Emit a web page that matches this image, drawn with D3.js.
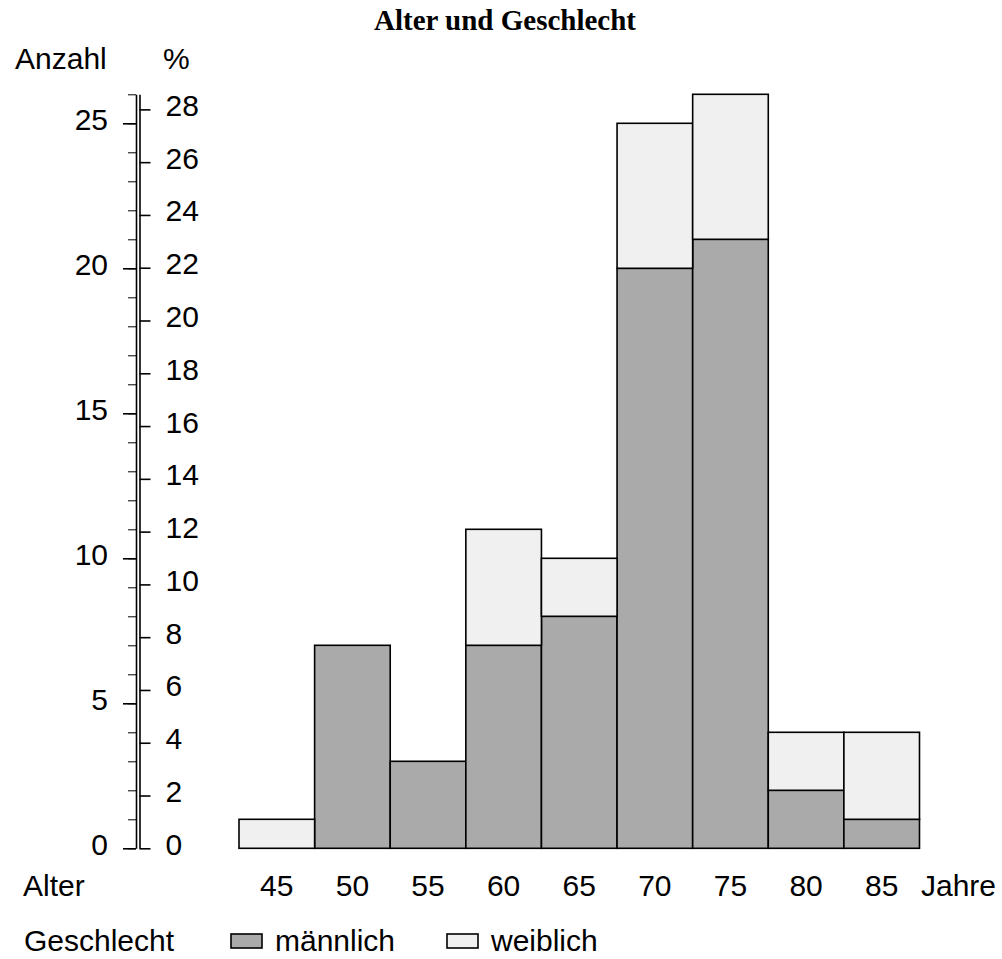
<!DOCTYPE html>
<html>
<head>
<meta charset="utf-8">
<script src="https://cdn.jsdelivr.net/npm/d3@7"></script>
<style>
  body { margin: 0; background: #fff; }
  svg text { font-family: "Liberation Sans", Arial, sans-serif; font-size: 30px; fill: #000; }
  .title { font-family: "Liberation Serif", "Times New Roman", serif; font-weight: bold; font-size: 29px; }
</style>
</head>
<body>
<div id="chart"></div>
<script>
// data
const ages = [45, 50, 55, 60, 65, 70, 75, 80, 85];
const maennlich = [0, 7, 3, 7, 8, 20, 21, 2, 1];
const weiblich = [1, 0, 0, 4, 2, 5, 5, 2, 3];
const seriesNames = ["männlich", "weiblich"];
const seriesColors = ["#aaaaaa", "#f0f0f0"];

document.addEventListener("DOMContentLoaded", function () {
  const width = 1002;
  const height = 959;
  const total = d3.sum(maennlich) + d3.sum(weiblich);

  const svg = d3
    .select("#chart")
    .append("svg")
    .attr("width", width)
    .attr("height", height);

  const rows = ages.map((a, i) => ({ age: a, "männlich": maennlich[i], "weiblich": weiblich[i] }));
  const stacked = d3.stack().keys(seriesNames)(rows);

  // scales
  const x = d3.scaleLinear().domain([42.5, 87.5]).range([239, 919.5]);
  const y = d3.scaleLinear().domain([0, 26]).range([848.3, 94.3]);
  const yPct = d3.scaleLinear().domain([0, (26 * 100) / total]).range([848.3, 94.3]);
  const half = 2.5;

  // title
  svg.append("text")
    .attr("class", "title")
    .attr("x", 505)
    .attr("y", 30)
    .attr("text-anchor", "middle")
    .text("Alter und Geschlecht");

  // bars
  svg.append("g")
    .selectAll("g")
    .data(stacked)
    .join("g")
    .attr("fill", (d, i) => seriesColors[i])
    .selectAll("rect")
    .data((d) => d)
    .join("rect")
    .attr("x", (d) => x(d.data.age - half))
    .attr("width", (d) => x(d.data.age + half) - x(d.data.age - half))
    .attr("y", (d) => y(d[1]))
    .attr("height", (d) => y(d[0]) - y(d[1]))
    .attr("stroke", "#000")
    .attr("stroke-width", 1.6);

  // left axis (Anzahl) - minor ticks
  svg.append("g")
    .attr("transform", "translate(136,0)")
    .call(d3.axisLeft(y).tickValues(d3.range(0, 27, 1)).tickSize(8).tickSizeOuter(0).tickFormat(""))
    .call((g) => g.select(".domain").attr("stroke-width", 1.6));

  // left axis major ticks
  svg.append("g")
    .attr("transform", "translate(136,0)")
    .call(d3.axisLeft(y).tickValues(d3.range(0, 26, 5)).tickSize(13).tickSizeOuter(0).tickPadding(15))
    .call((g) => g.select(".domain").remove())
    .call((g) => g.selectAll("line").attr("stroke-width", 1.6))
    .call((g) => g.selectAll("text").attr("dy", "0.2em").attr("font-size", null).attr("font-family", null));

  // right axis (%)
  svg.append("g")
    .attr("transform", "translate(139.5,0)")
    .call(d3.axisRight(yPct).tickValues(d3.range(0, 29, 2)).tickSize(11).tickSizeOuter(0).tickPadding(15))
    .call((g) => g.select(".domain").attr("stroke-width", 1.6))
    .call((g) => g.selectAll("line").attr("stroke-width", 1.6))
    .call((g) => g.selectAll("text").attr("dy", "0.2em").attr("font-size", null).attr("font-family", null));

  svg.selectAll(".tick line, .domain").attr("stroke", "#000");

  // axis titles
  svg.append("text").attr("x", 15).attr("y", 69).text("Anzahl");
  svg.append("text").attr("x", 163).attr("y", 69).text("%");

  // x labels
  svg.append("g")
    .selectAll("text")
    .data(ages)
    .join("text")
    .attr("x", (d) => x(d))
    .attr("y", 896)
    .attr("text-anchor", "middle")
    .text((d) => d);

  svg.append("text").attr("x", 23).attr("y", 896).text("Alter");
  svg.append("text").attr("x", 921).attr("y", 896).text("Jahre");

  // legend
  svg.append("text").attr("x", 24).attr("y", 951).text("Geschlecht");
  const legendX = [231, 447];
  const legend = svg.append("g")
    .selectAll("g")
    .data(seriesNames)
    .join("g")
    .attr("transform", (d, i) => "translate(" + legendX[i] + ",934)");

  legend.append("rect")
    .attr("width", 31)
    .attr("height", 14)
    .attr("fill", (d, i) => seriesColors[i])
    .attr("stroke", "#000")
    .attr("stroke-width", 1.6);

  legend.append("text")
    .attr("x", 44)
    .attr("y", 17)
    .text((d) => d);
});
</script>
</body>
</html>
